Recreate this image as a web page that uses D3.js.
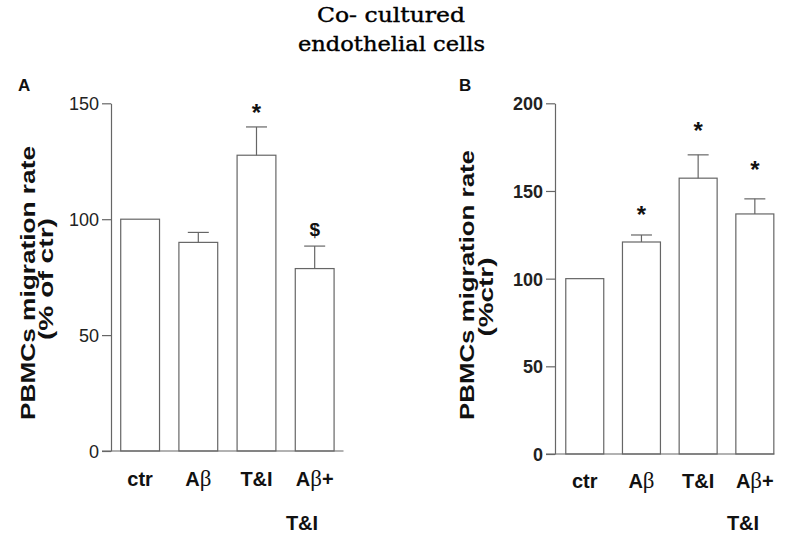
<!DOCTYPE html>
<html><head><meta charset="utf-8">
<script src="https://cdn.jsdelivr.net/npm/d3@7"></script>
<style>body{margin:0;background:#fff}svg{display:block}</style>
</head><body>
<script>
const categories = ["ctr", "Aβ", "T&I", "Aβ+"];
const valuesA = [100, 90, 127.6, 78.7];
const errorsA = [0, 4.3, 12.2, 9.7];
const marksA = ["", "", "*", "$"];
const ticksA = [0, 50, 100, 150];
const valuesB = [100, 120.9, 157.3, 136.9];
const errorsB = [0, 4.0, 13.3, 8.6];
const marksB = ["", "*", "*", "*"];
const ticksB = [0, 50, 100, 150, 200];

const W = 788, H = 533;
const svg = d3.select("body").append("svg").attr("width", W).attr("height", H);
const stroke = "#666";
const SANS = "Liberation Sans, Arial, sans-serif";

// Title
svg.append("text").attr("x", 391).attr("y", 22).attr("text-anchor", "middle")
  .attr("font-family", "DejaVu Serif, serif").attr("font-size", 21).attr("fill", "#000")
  .attr("stroke", "#000").attr("stroke-width", 0.4)
  .attr("textLength", 148).attr("lengthAdjust", "spacingAndGlyphs").text("Co- cultured");
svg.append("text").attr("x", 391.5).attr("y", 51).attr("text-anchor", "middle")
  .attr("font-family", "DejaVu Serif, serif").attr("font-size", 21).attr("fill", "#000")
  .attr("stroke", "#000").attr("stroke-width", 0.4)
  .attr("textLength", 187).attr("lengthAdjust", "spacingAndGlyphs").text("endothelial cells");

function catLabel(g, x, y, name) {
  const t = g.append("text").attr("x", x).attr("y", y).attr("text-anchor", "middle")
    .attr("font-family", SANS).attr("font-size", 20).attr("font-weight", "bold").attr("fill", "#111");
  if (name.indexOf("β") >= 0) {
    const parts = name.split("β");
    t.append("tspan").text(parts[0]);
    t.append("tspan").attr("font-family", "Liberation Serif, Times New Roman, serif").attr("font-weight", "normal").attr("font-size", 23).text("β");
    if (parts[1]) t.append("tspan").text(parts[1]);
  } else t.text(name);
}

function panel(cfg) {
  const g = svg.append("g");
  const y = d3.scaleLinear().domain([0, cfg.max]).range([cfg.y0, cfg.y1]);
  const x = d3.scaleBand().domain(categories).range([cfg.x0, cfg.x1])
    .paddingInner(cfg.pi).paddingOuter(cfg.po);

  // y axis
  const ax = g.append("g").attr("transform", `translate(${cfg.x0},0)`)
    .call(d3.axisLeft(y).tickValues(cfg.ticks).tickSize(9).tickPadding(3).tickSizeOuter(0));
  ax.select(".domain").attr("stroke", stroke).attr("stroke-width", 1.2);
  ax.selectAll(".tick line").attr("stroke", stroke).attr("stroke-width", 1.2);
  ax.selectAll(".tick text").attr("font-family", SANS)
    .attr("font-size", 18).attr("font-weight", cfg.boldTicks ? "bold" : "normal").attr("fill", "#222")
    .attr("dy", "0.36em");

  // bars
  g.selectAll("rect.bar").data(cfg.values).enter().append("rect")
    .attr("x", (d, i) => x(categories[i])).attr("width", x.bandwidth())
    .attr("y", d => y(d)).attr("height", d => y(0) - y(d))
    .attr("fill", "#fff").attr("stroke", stroke).attr("stroke-width", 1.2);

  // error bars
  cfg.values.forEach((v, i) => {
    if (!cfg.errors[i]) return;
    const cx = x(categories[i]) + x.bandwidth() / 2;
    g.append("line").attr("x1", cx).attr("x2", cx).attr("y1", y(v)).attr("y2", y(v + cfg.errors[i]))
      .attr("stroke", stroke).attr("stroke-width", 1.2);
    g.append("line").attr("x1", cx - 10.5).attr("x2", cx + 10.5).attr("y1", y(v + cfg.errors[i])).attr("y2", y(v + cfg.errors[i]))
      .attr("stroke", stroke).attr("stroke-width", 1.2);
  });

  // x baseline
  g.append("line").attr("x1", cfg.x0 - 9).attr("x2", cfg.xEnd).attr("y1", y(0)).attr("y2", y(0))
    .attr("stroke", stroke).attr("stroke-width", 1.2);

  // significance marks
  cfg.values.forEach((v, i) => {
    if (!cfg.marks[i]) return;
    const cx = x(categories[i]) + x.bandwidth() / 2;
    g.append("text").attr("x", cx).attr("y", y(v + cfg.errors[i]) - cfg.markOff[i])
      .attr("text-anchor", "middle").attr("font-family", SANS)
      .attr("font-size", cfg.marks[i] === "*" ? 24 : 19).attr("font-weight", "bold").attr("fill", "#111")
      .text(cfg.marks[i]);
  });

  // category labels
  categories.forEach((c, i) => {
    catLabel(g, x(c) + x.bandwidth() / 2, cfg.catY, c);
  });
  catLabel(g, cfg.tiX, cfg.tiY, "T&I");

  // y label
  g.append("text").attr("transform", `translate(${cfg.lab1[0]},${cfg.lab1[1]}) rotate(-90)`).attr("text-anchor", "middle")
    .attr("font-family", SANS).attr("font-size", 20).attr("font-weight", "bold").attr("fill", "#111")
    .attr("textLength", cfg.lab1[2]).attr("lengthAdjust", "spacingAndGlyphs")
    .text("PBMCs migration rate");
  g.append("text").attr("transform", `translate(${cfg.lab2[0]},${cfg.lab2[1]}) rotate(-90)`).attr("text-anchor", "middle")
    .attr("font-family", SANS).attr("font-size", 20).attr("font-weight", "bold").attr("fill", "#111")
    .attr("textLength", cfg.lab2[2]).attr("lengthAdjust", "spacingAndGlyphs")
    .text(cfg.label2);

  // panel letter
  g.append("text").attr("x", cfg.letterX).attr("y", 91)
    .attr("font-family", SANS).attr("font-size", 17).attr("font-weight", "bold").attr("fill", "#111")
    .text(cfg.letter);
}

panel({ values: valuesA, errors: errorsA, marks: marksA, ticks: ticksA, max: 150,
  x0: 111, x1: 343.8, xEnd: 343.5, y0: 451, y1: 103.3, pi: 0.333, po: 0.167,
  boldTicks: false, catY: 486, tiX: 302, tiY: 530,
  markOff: [0, 0, 6, 10], lab1: [35, 283, 274], lab2: [53, 279, 122], label2: "(% of ctr)", letter: "A", letterX: 18 });

panel({ values: valuesB, errors: errorsB, marks: marksB, ticks: ticksB, max: 200,
  x0: 555, x1: 784.6, xEnd: 774.3, y0: 454, y1: 103.3, pi: 0.33, po: 0.19,
  boldTicks: true, catY: 488, tiX: 743, tiY: 530,
  markOff: [0, 12, 16, 21], lab1: [474, 285, 270], lab2: [493, 297, 79], label2: "(%ctr)", letter: "B", letterX: 459 });
</script>
</body></html>
